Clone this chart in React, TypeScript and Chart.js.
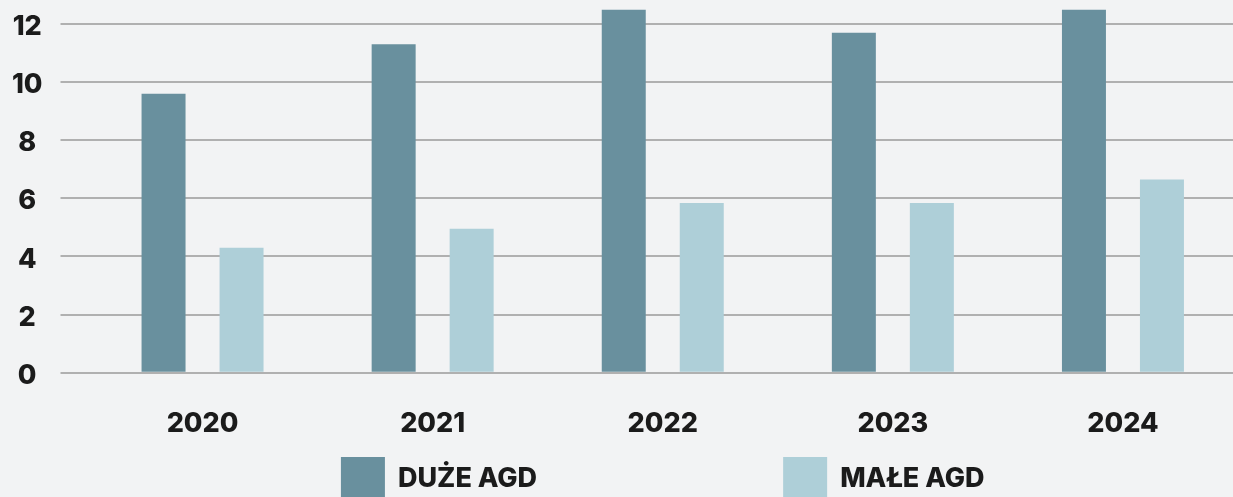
import React, { useEffect, useRef } from "react";
import { Chart, registerables } from "chart.js";

Chart.register(...registerables);

const CATEGORIES = ["2020", "2021", "2022", "2023", "2024"];
const DUZE_AGD = [9.6, 11.3, 12.5, 11.7, 12.5];
const MALE_AGD = [4.3, 4.95, 5.84, 5.84, 6.65];
const SERIES_LABELS = ["DUŻE AGD", "MAŁE AGD"];
const Y_TICKS = [0, 2, 4, 6, 8, 10, 12];

const DARK = "#69909e";
const LIGHT = "#aecfd8";
const FONT = "Inter";

const legendPlugin = {
  id: "customLegend",
  afterDraw(chart: any) {
    const { ctx, chartArea } = chart;
    const box = 44;
    const gapText = 13;
    const gapItems = 246;
    ctx.save();
    ctx.font = `800 27px ${FONT}`;
    ctx.textBaseline = "middle";
    ctx.textAlign = "left";
    const items = chart.data.datasets.map((ds: any) => {
      const tw = ctx.measureText(ds.label).width;
      return { text: ds.label, color: ds.backgroundColor, w: box + gapText + tw };
    });
    const total = items.reduce((s: number, it: any) => s + it.w, 0) + gapItems * (items.length - 1);
    let x = (chartArea.left + chartArea.right) / 2 - total / 2;
    const yTop = 457;
    const yMid = 479;
    for (const it of items) {
      ctx.fillStyle = it.color;
      ctx.fillRect(x, yTop, box, box);
      ctx.fillStyle = "#1b1b1b";
      ctx.fillText(it.text, x + box + gapText, yMid);
      x += it.w + gapItems;
    }
    ctx.restore();
  },
};

export default function App() {
  const ref = useRef<HTMLCanvasElement | null>(null);
  useEffect(() => {
    document.body.style.margin = "0";
    const chart = new Chart(ref.current as HTMLCanvasElement, {
      type: "bar",
      data: {
        labels: CATEGORIES,
        datasets: [
          { label: SERIES_LABELS[0], data: DUZE_AGD, backgroundColor: DARK },
          { label: SERIES_LABELS[1], data: MALE_AGD, backgroundColor: LIGHT },
        ],
      },
      options: {
        responsive: false,
        animation: false,
        devicePixelRatio: 1,
        layout: { padding: { top: 9.5, left: 0, right: 2, bottom: 0 } },
        datasets: {
          bar: { categoryPercentage: 0.678, barPercentage: 0.564 },
        } as any,
        plugins: {
          legend: { display: false },
          tooltip: { enabled: false },
        },
        scales: {
          x: {
            grid: { display: false },
            border: { display: false },
            ticks: {
              color: "#1b1b1b",
              font: { family: FONT, size: 27, weight: "800" },
              padding: 27,
              maxRotation: 0,
            },
            afterFit: (scale: any) => {
              scale.height = 124.3;
            },
          },
          y: {
            min: 0,
            max: 12.5,
            border: { display: false },
            grid: {
              color: "#b0b0b0",
              lineWidth: 2,
              drawTicks: true,
              tickLength: 27,
            },
            ticks: {
              color: "#1b1b1b",
              font: { family: FONT, size: 27, weight: "800", lineHeight: 0.22 },
              padding: 18,
              crossAlign: "center",
              callback: (v: any) => ["", String(v)],
            },
            afterBuildTicks: (scale: any) => {
              scale.ticks = Y_TICKS.map((v) => ({ value: v }));
            },
            afterFit: (scale: any) => {
              scale.width = 87.5;
              scale.paddingTop = 0;
              scale.paddingBottom = 0;
            },
          },
        },
      },
      plugins: [legendPlugin],
    });
    return () => chart.destroy();
  }, []);
  return (
    <div
      style={{
        position: "absolute",
        left: 0,
        top: 0,
        width: 1233,
        height: 497,
        overflow: "hidden",
        background: "#f2f3f4",
      }}
    >
      <canvas ref={ref} width={1240} height={497} style={{ display: "block" }} />
    </div>
  );
}
